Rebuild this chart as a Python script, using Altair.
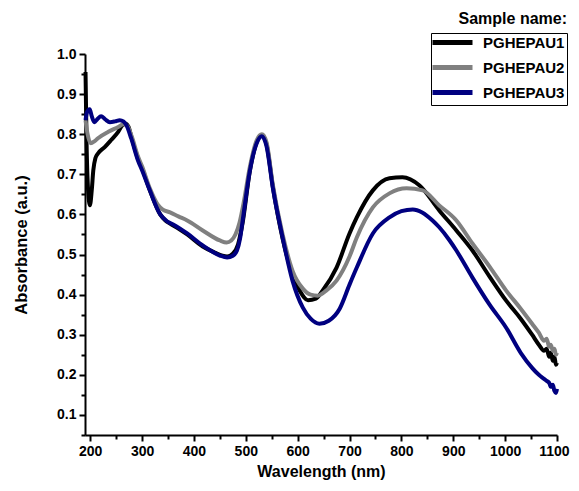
import altair as alt
import pandas as pd

series_names = ["PGHEPAU1", "PGHEPAU2", "PGHEPAU3"]
series_colors = ["#000000", "#808080", "#000080"]

wl_1 = [191, 193, 196, 199.5, 203, 206, 210, 215, 228, 240, 254, 262, 268, 274, 279, 292, 300, 315, 335, 345, 354, 370, 387, 417, 440, 455, 464, 475, 485, 494, 508, 521, 531, 540, 552, 571, 590, 604, 620, 635, 648, 675, 700, 714, 745, 777, 802, 835, 873, 906, 937, 970, 1002, 1030, 1052, 1065, 1075, 1080, 1085, 1088, 1092, 1095, 1098, 1100]
ab_1 = [0.955, 0.78, 0.66, 0.623, 0.66, 0.71, 0.74, 0.752, 0.768, 0.785, 0.806, 0.822, 0.826, 0.818, 0.795, 0.74, 0.715, 0.66, 0.60, 0.585, 0.577, 0.565, 0.55, 0.52, 0.505, 0.497, 0.495, 0.502, 0.525, 0.58, 0.71, 0.78, 0.797, 0.775, 0.67, 0.54, 0.45, 0.41, 0.386, 0.39, 0.41, 0.4675, 0.5525, 0.5925, 0.66, 0.69, 0.6925, 0.672, 0.61, 0.56, 0.51, 0.445, 0.385, 0.34, 0.30, 0.275, 0.26, 0.265, 0.245, 0.255, 0.235, 0.245, 0.225, 0.23]

wl_2 = [191, 195, 201, 208, 215, 235, 254, 264, 272, 280, 292, 300, 315, 330, 340, 354, 370, 387, 417, 450, 463, 472, 480, 488, 496, 508, 521, 531, 540, 552, 571, 590, 610, 625, 639, 655, 675, 700, 714, 745, 777, 810, 841, 873, 906, 937, 970, 1002, 1030, 1052, 1065, 1075, 1080, 1085, 1088, 1092, 1095, 1098, 1100]
ab_2 = [0.835, 0.80, 0.7775, 0.782, 0.79, 0.806, 0.818, 0.825, 0.82, 0.795, 0.745, 0.72, 0.665, 0.625, 0.612, 0.605, 0.595, 0.585, 0.56, 0.535, 0.53, 0.535, 0.55, 0.58, 0.63, 0.72, 0.785, 0.80, 0.78, 0.675, 0.55, 0.46, 0.415, 0.40, 0.3975, 0.41, 0.435, 0.495, 0.5425, 0.6175, 0.6525, 0.665, 0.66, 0.6225, 0.585, 0.5275, 0.47, 0.41, 0.365, 0.3275, 0.305, 0.285, 0.29, 0.27, 0.275, 0.26, 0.265, 0.25, 0.255]

wl_3 = [191, 194, 199, 203, 208, 214, 221, 229, 238, 248, 257, 264, 270, 279, 292, 300, 315, 335, 348, 360, 387, 417, 450, 464, 475, 483, 489, 494, 508, 521, 531, 540, 552, 571, 590, 610, 625, 642, 660, 681, 700, 714, 745, 777, 800, 822, 840, 860, 873, 893, 906, 937, 970, 1002, 1030, 1052, 1065, 1075, 1080, 1085, 1088, 1092, 1095, 1098, 1100]
ab_3 = [0.835, 0.855, 0.8625, 0.845, 0.83, 0.838, 0.845, 0.837, 0.83, 0.832, 0.835, 0.832, 0.822, 0.79, 0.735, 0.71, 0.66, 0.60, 0.583, 0.575, 0.5525, 0.5225, 0.4975, 0.4925, 0.497, 0.51, 0.54, 0.585, 0.71, 0.7775, 0.795, 0.77, 0.6675, 0.5425, 0.435, 0.3675, 0.34, 0.3275, 0.335, 0.365, 0.425, 0.4675, 0.5525, 0.5925, 0.608, 0.6125, 0.605, 0.585, 0.568, 0.535, 0.51, 0.4425, 0.375, 0.3175, 0.255, 0.2175, 0.2, 0.19, 0.185, 0.18, 0.17, 0.175, 0.16, 0.155, 0.165]

x_ticks = [200 + 50 * i for i in range(19)]
y_ticks = [round(0.05 * i, 2) for i in range(1, 21)]

frames = []
for name, wl, ab in zip(series_names, [wl_1, wl_2, wl_3], [ab_1, ab_2, ab_3]):
    frames.append(pd.DataFrame({"wavelength": wl, "absorbance": ab, "sample": name}))
df = pd.concat(frames, ignore_index=True)

FONT = "Liberation Sans"

chart = alt.Chart(df).mark_line(strokeWidth=4, interpolate="monotone").encode(
    x=alt.X("wavelength:Q",
            scale=alt.Scale(domain=[190, 1100], nice=False, zero=False),
            axis=alt.Axis(title="Wavelength (nm)", values=x_ticks, format="d",
                          labelExpr="datum.value % 100 === 0 ? datum.label : ''",
                          labelOverlap=False, labelFlush=True, labelFlushOffset=12,
                          tickSize={"condition": {"test": "datum.value % 100 === 0", "value": 6}, "value": 4},
                          labelPadding=3, titlePadding=5, titleFontSize=16)),
    y=alt.Y("absorbance:Q",
            scale=alt.Scale(domain=[0.05, 1.0], nice=False, zero=False),
            axis=alt.Axis(title="Absorbance (a.u.)", values=y_ticks, format=".1f",
                          labelExpr="round(datum.value * 100) % 10 === 0 ? datum.label : ''",
                          labelOverlap=False, labelFlush=False,
                          tickSize={"condition": {"test": "round(datum.value * 100) % 10 === 0", "value": 6}, "value": 4},
                          labelPadding=3, titlePadding=27, titleFontSize=16.5)),
    color=alt.Color("sample:N",
                    scale=alt.Scale(domain=series_names, range=series_colors),
                    legend=alt.Legend(title=None, orient="none", legendX=346, legendY=-21,
                                      strokeColor="black", fillColor="white", padding=2,
                                      symbolType="M-4,0H4", symbolSize=100, symbolStrokeWidth=5,
                                      symbolOffset=12, labelOffset=23, rowPadding=4,
                                      labelFontSize=15, labelFontWeight="bold", labelFont=FONT,
                                      labelColor="black", cornerRadius=0)),
).properties(
    width=472, height=381,
    autosize=alt.AutoSizeParams(type="none"),
    padding={"left": 77, "top": 46, "right": 14, "bottom": 48},
    title=alt.TitleParams("Sample name:", anchor="end", fontSize=16, fontWeight="bold",
                          font=FONT, color="black", dx=-2, offset=6),
).configure_view(stroke=None).configure_axis(
    grid=False, domainColor="black", domainWidth=2, tickColor="black", tickWidth=2,
    labelFont=FONT, labelFontSize=14, labelFontWeight="bold", labelColor="black",
    titleFont=FONT, titleFontWeight="bold", titleColor="black",
)

chart.save("out.html", embed_options={"renderer": "svg", "actions": False})
